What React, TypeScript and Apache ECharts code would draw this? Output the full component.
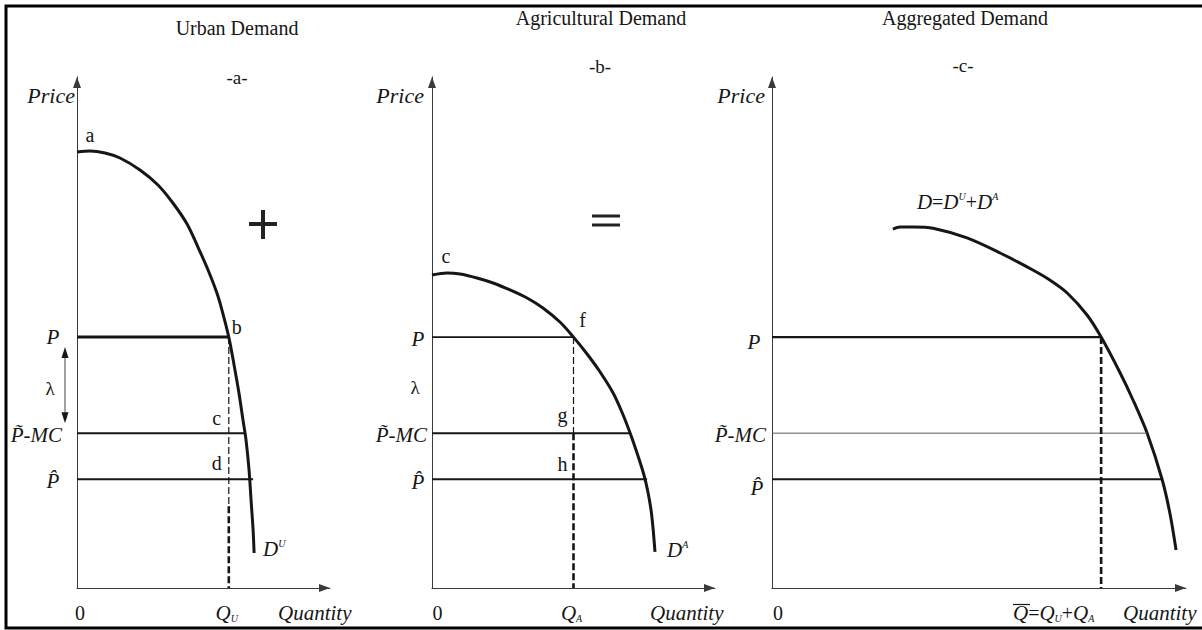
import { useEffect, useRef } from "react";
import * as echarts from "echarts";

// Demand schedules as (quantity, price) pairs; each panel uses 0–100 on both axes.
const urbanDemand: [number, number][] = [
  [0, 85.32], [5.14, 85.52], [11.07, 85.13], [17, 84.15], [24.9, 81.8], [32, 78.86],
  [37.9, 75.34], [43.5, 71.23], [47.8, 66.73], [51.8, 62.23], [55.3, 57.73],
  [57.3, 54.4], [60, 49.1], [62.1, 43.6], [64, 38.2], [65.6, 32.9], [66.8, 29],
  [68, 23.1], [68.8, 17.2], [69.6, 11.4], [70, 6.85],
];
const agriDemand: [number, number][] = [
  [0, 61.25], [5.3, 61.64], [9.9, 61.45], [15.9, 60.67], [21.6, 59.69], [27.6, 58.32],
  [33.6, 56.75], [39.2, 54.79], [45.2, 52.05], [50, 49.1], [54.8, 45.79], [59.4, 42.27],
  [64, 38.16], [67.1, 34.44], [70, 30.33], [72.8, 25.83], [74.9, 22.11], [76.3, 18.79],
  [77.4, 15.26], [78.1, 11.74], [78.8, 7.05],
];
const aggDemand: [number, number][] = [
  [29.2, 70.25], [30.9, 70.65], [34.1, 70.65], [38.9, 70.4], [47.1, 68.5], [55.1, 65.56],
  [63, 62.23], [67.1, 60.27], [71.3, 57.73], [76.1, 53.42], [79.5, 49.1], [84.1, 42.07],
  [87.2, 36.79], [90.6, 30.33], [94.2, 21.33], [96.1, 14.68], [97.6, 7.44],
];

// Price levels: P, P̃-MC, P̂
const priceLevels = [49.1, 30.3, 21.3];
// Quantity at which each price line stops, per panel
const urbanLineEnds = [60, 66.6, 69.6];
const agriLineEnds = [50, 70, 76];
const aggLineEnds = [79.5, 90.6, 94.2];
// Quantities demanded at P: Q_U, Q_A, Q̄
const equilibriumQ = [60, 50, 79.5];
// Price below which the drop line is drawn heavier
const heavyDashFrom = [16, 30.3, 49.1];

const titles = ["Urban Demand", "Agricultural Demand", "Aggregated Demand"];
const tags = ["-a-", "-b-", "-c-"];

const FONT = "'Liberation Serif', 'Times New Roman', serif";
const INK = "#161616";

const grids = [
  { left: 77, top: 77, width: 253, height: 511 },
  { left: 432, top: 77, width: 283, height: 511 },
  { left: 772, top: 77, width: 414, height: 511 },
];

const axisLine = {
  show: true,
  onZero: false,
  symbol: ["none", "triangle"],
  symbolSize: [8, 11],
  symbolOffset: [0, -5.5],
  lineStyle: { color: "#3a3a3a", width: 1 },
};

function seg(gi: number, data: number[][], width: number, color = INK, type: any = "solid", smooth: number | boolean = false) {
  return {
    type: "line",
    xAxisIndex: gi,
    yAxisIndex: gi,
    data,
    symbol: "none",
    showSymbol: false,
    silent: true,
    clip: false,
    smooth,
    lineStyle: { color, width, type, cap: "butt" },
  };
}

function buildOption() {
  const curves = [urbanDemand, agriDemand, aggDemand];
  const ends = [urbanLineEnds, agriLineEnds, aggLineEnds];
  const priceWidths = [[3, 2, 2], [1.6, 2, 2], [2.2, 1, 2]];
  const priceColors = [[INK, INK, INK], [INK, INK, INK], [INK, "#5a5a5a", INK]];
  const series: any[] = [];
  for (let gi = 0; gi < 3; gi++) {
    series.push(seg(gi, curves[gi], 3, INK, "solid", 0.3));
    for (let k = 0; k < 3; k++) {
      series.push(seg(gi, [[0, priceLevels[k]], [ends[gi][k], priceLevels[k]]], priceWidths[gi][k], priceColors[gi][k]));
    }
    const q = equilibriumQ[gi];
    if (heavyDashFrom[gi] < priceLevels[0]) {
      series.push(seg(gi, [[q, priceLevels[0]], [q, heavyDashFrom[gi]]], 1.2, INK, [7, 3]));
    }
    series.push(seg(gi, [[q, heavyDashFrom[gi]], [q, 0]], 2.6, INK, [7, 3]));
  }
  return {
    animation: false,
    backgroundColor: "#ffffff",
    grid: grids,
    xAxis: grids.map((_, gi) => ({
      type: "value", gridIndex: gi, min: 0, max: 100,
      axisLine, axisTick: { show: false }, axisLabel: { show: false }, splitLine: { show: false },
    })),
    yAxis: grids.map((_, gi) => ({
      type: "value", gridIndex: gi, min: 0, max: 100,
      axisLine, axisTick: { show: false }, axisLabel: { show: false }, splitLine: { show: false },
    })),
    series,
  };
}

type TxtOpt = { size?: number; italic?: boolean; align?: string; rich?: any; fill?: string };
function txt(x: number, y: number, text: string, o: TxtOpt = {}) {
  return {
    type: "text", x, y, silent: true, z: 10,
    style: {
      text, fill: o.fill ?? INK, fontFamily: FONT, fontSize: o.size ?? 20,
      fontStyle: o.italic ? "italic" : "normal", align: o.align ?? "center",
      verticalAlign: "middle", rich: o.rich,
    },
  };
}

const rich = {
  i: { fontFamily: FONT, fontSize: 21, fontStyle: "italic", fill: INK },
  r: { fontFamily: FONT, fontSize: 20, fill: INK },
  sup: { fontFamily: FONT, fontSize: 10, fontStyle: "italic", fill: INK, verticalAlign: "top" },
  sub: { fontFamily: FONT, fontSize: 10, fontStyle: "italic", fill: INK, verticalAlign: "bottom" },
};

function buildGraphics(chart: echarts.ECharts) {
  const at = (gi: number, x: number, y: number) =>
    chart.convertToPixel({ gridIndex: gi }, [x, y]) as number[];
  const g: any[] = [];

  // frame
  g.push({ type: "rect", silent: true, shape: { x: 6, y: 6, width: 1200, height: 622 }, style: { fill: "none", stroke: "#000", lineWidth: 3 } });

  // panel titles
  const titlePos = [[237, 28], [601, 18], [965, 18]];
  const tagPos = [[237, 77], [600, 66], [963, 65]];
  for (let gi = 0; gi < 3; gi++) {
    g.push(txt(titlePos[gi][0], titlePos[gi][1], titles[gi], { size: 20 }));
    g.push(txt(tagPos[gi][0], tagPos[gi][1], tags[gi], { size: 19 }));
  }

  const priceGap = [2, 8, 7];
  const pGap = [24, 14, 18];
  const pDy = [0, 2, 5];
  const mcGap = [15, 5, 6];
  const hatGap = [24, 14, 15];
  const hatDy = [2, 3, 9];
  const zeroGap = [3, 5.5, 6];
  const qtyBack = [52, 65, 63];
  for (let gi = 0; gi < 3; gi++) {
    const [ox] = at(gi, 0, 0);
    const tipX = at(gi, 100, 0)[0];
    const yP = at(gi, 0, priceLevels[0])[1];
    const yM = at(gi, 0, priceLevels[1])[1];
    const yH = at(gi, 0, priceLevels[2])[1];
    g.push(txt(ox - priceGap[gi], 95, "Price", { italic: true, size: 22, align: "right" }));
    g.push(txt(ox - pGap[gi], yP + pDy[gi], "P", { italic: true, size: 21 }));
    g.push(txt(ox - mcGap[gi], yM + 2, "P\u0303-MC", { italic: true, size: 21, align: "right" }));
    g.push(txt(ox - hatGap[gi], yH + hatDy[gi], "P\u0302", { italic: true, size: 21 }));
    g.push(txt(ox + zeroGap[gi], 613, "0", { size: 20 }));
    g.push(txt(tipX - qtyBack[gi], 613, "Quantity", { italic: true, size: 21, align: "left" }));
  }

  // quantity markers under the drop lines
  const qu = at(0, equilibriumQ[0], 0)[0];
  const qa = at(1, equilibriumQ[1], 0)[0];
  g.push(txt(qu - 2, 613, "{i|Q}{sub|U}", { rich }));
  g.push(txt(qa - 2, 613, "{i|Q}{sub|A}", { rich }));
  g.push(txt(1013, 613, "{i|Q}{r|=}{i|Q}{sub|U}{r|+}{i|Q}{sub|A}", { rich, align: "left" }));
  g.push({ type: "line", silent: true, shape: { x1: 1013, y1: 604.5, x2: 1030, y2: 604.5 }, style: { stroke: INK, lineWidth: 1.2 } });

  // point letters, placed next to the points they name
  const letter = (gi: number, x: number, y: number, dx: number, dy: number, s: string) => {
    const [px, py] = at(gi, x, y);
    g.push(txt(px + dx, py + dy, s, { size: 20 }));
  };
  letter(0, urbanDemand[0][0], urbanDemand[0][1], 13, -17, "a");
  letter(0, equilibriumQ[0], priceLevels[0], 8, -10, "b");
  letter(0, equilibriumQ[0], priceLevels[1], -12, -15, "c");
  letter(0, equilibriumQ[0], priceLevels[2], -12, -16, "d");
  letter(1, agriDemand[0][0], agriDemand[0][1], 14, -19, "c");
  letter(1, equilibriumQ[1], priceLevels[0], 9, -17, "f");
  letter(1, equilibriumQ[1], priceLevels[1], -11, -18, "g");
  letter(1, equilibriumQ[1], priceLevels[2], -11, -15, "h");

  // curve names
  const uEnd = at(0, urbanDemand[urbanDemand.length - 1][0], urbanDemand[urbanDemand.length - 1][1]);
  g.push(txt(uEnd[0] + 9, uEnd[1] - 4, "{i|D}{sup|U}", { rich, align: "left" }));
  const aEnd = at(1, agriDemand[agriDemand.length - 1][0], agriDemand[agriDemand.length - 1][1]);
  g.push(txt(aEnd[0] + 12, aEnd[1] - 2, "{i|D}{sup|A}", { rich, align: "left" }));
  const sStart = at(2, aggDemand[0][0], aggDemand[0][1]);
  g.push(txt(sStart[0] + 24, sStart[1] - 27, "{i|D}{r|=}{i|D}{sup|U}{r|+}{i|D}{sup|A}", { rich, align: "left" }));

  // λ gap and its double arrow in panels a and b
  const yP0 = at(0, 0, priceLevels[0])[1];
  const yM0 = at(0, 0, priceLevels[1])[1];
  const ax = 65;
  const y1 = yP0 + 10;
  const y2 = yM0 - 10;
  g.push({ type: "line", silent: true, shape: { x1: ax, y1: y1 + 8, x2: ax, y2: y2 - 8 }, style: { stroke: "#444", lineWidth: 1 } });
  g.push({ type: "polygon", silent: true, shape: { points: [[ax, y1], [ax - 3.5, y1 + 11], [ax + 3.5, y1 + 11]] }, style: { fill: INK } });
  g.push({ type: "polygon", silent: true, shape: { points: [[ax, y2], [ax - 3.5, y2 - 11], [ax + 3.5, y2 - 11]] }, style: { fill: INK } });
  g.push(txt(50, (yP0 + yM0) / 2 + 3, "\u03bb", { size: 19 }));
  const yP1 = at(1, 0, priceLevels[0])[1];
  const yM1 = at(1, 0, priceLevels[1])[1];
  g.push(txt(415, (yP1 + yM1) / 2 + 2, "\u03bb", { size: 19 }));

  // operators between panels
  g.push({ type: "rect", silent: true, shape: { x: 261, y: 210, width: 4, height: 29 }, style: { fill: "#222" } });
  g.push({ type: "rect", silent: true, shape: { x: 249, y: 222, width: 28, height: 4 }, style: { fill: "#222" } });
  g.push({ type: "rect", silent: true, shape: { x: 592, y: 214.5, width: 28, height: 3 }, style: { fill: "#222" } });
  g.push({ type: "rect", silent: true, shape: { x: 592, y: 223.5, width: 28, height: 3 }, style: { fill: "#222" } });

  return g;
}

export default function App() {
  const ref = useRef<HTMLDivElement>(null);
  useEffect(() => {
    const chart = echarts.init(ref.current!, null, { renderer: "svg" });
    chart.setOption(buildOption() as any);
    chart.setOption({ graphic: buildGraphics(chart) } as any);
    return () => chart.dispose();
  }, []);
  return (
    <div
      ref={ref}
      style={{ position: "fixed", left: 0, top: 0, width: 1202, height: 630, background: "#fff" }}
    />
  );
}
